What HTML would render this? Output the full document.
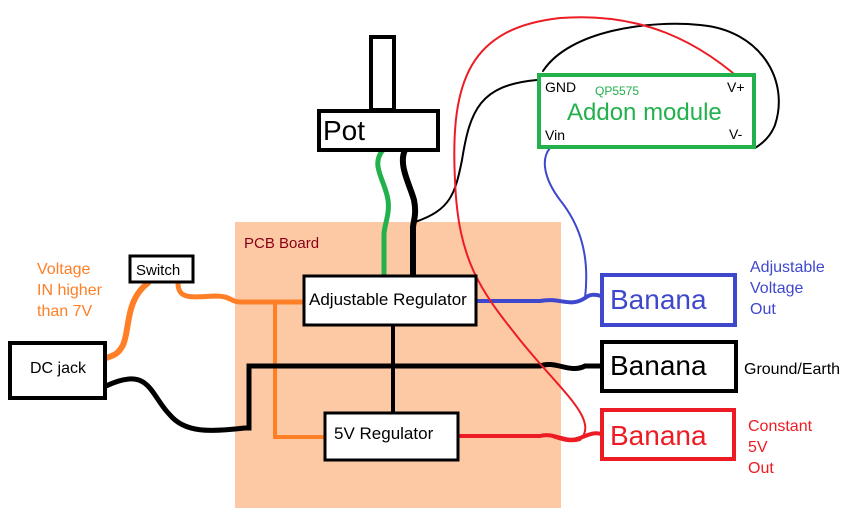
<!DOCTYPE html>
<html><head><style>
html,body{margin:0;padding:0;background:#fff;}
svg{display:block;font-family:"Liberation Sans","DejaVu Sans",sans-serif;}
</style></head><body>
<svg width="859" height="529" viewBox="0 0 859 529" xmlns="http://www.w3.org/2000/svg">
<rect x="235" y="222" width="326" height="286" fill="#fdc8a4"/>
<text x="244" y="248" font-size="15" fill="#880015">PCB Board</text>

<g fill="none" stroke-linecap="round">
<path d="M148 283 C125 300 130 330 123 345 C118 355 112 356 106 358" stroke="#ff7f27" stroke-width="6"/>
<path d="M178 283 C178 300 192 297 215 296 C232 296 230 302 240 302 L303 302" stroke="#ff7f27" stroke-width="5"/>
<path d="M275 302 L275 437 L324 437" stroke="#ff7f27" stroke-width="4"/>
<path d="M106 386 C150 365 150 395 170 415 C185 433 210 432 245 428 L249 428 L249 366 L540 366 C555 360 570 374 585 366 L601 366" stroke="#000" stroke-width="5"/>
<path d="M393 326 L393 412" stroke="#000" stroke-width="4"/>
<path d="M459 436 L540 436 C555 432 565 444 580 438 C590 434 595 432 601 434" stroke="#ed1c24" stroke-width="4"/>
<path d="M477 301 L540 301 C560 297 570 308 585 298 C590 294 595 294 601 296" stroke="#3f48cc" stroke-width="4"/>
<path d="M383 150 C370 165 385 180 388 200 C390 215 384 225 384 235 L384 275" stroke="#22b14c" stroke-width="5"/>
<path d="M405 150 C398 165 410 185 414 200 C417 215 413 222 413 228 L413 275" stroke="#000" stroke-width="6"/>
<path d="M415 222 C450 210 455 195 462 160 C470 110 480 85 537 80" stroke="#000" stroke-width="2"/>
<path d="M543 71 C570 30 650 20 700 25 C760 30 790 80 775 125 C770 138 760 145 755 148" stroke="#000" stroke-width="2"/>
<path d="M752 90 C700 40 640 12 560 18 C470 28 450 80 455 180 C458 260 480 290 520 340 C560 390 600 420 580 440 C570 443 560 440 550 436" stroke="#ed1c24" stroke-width="2"/>
<path d="M550 148 C540 160 545 180 560 200 C580 225 590 255 585 298" stroke="#3f48cc" stroke-width="2"/>
</g>

<rect x="371" y="37" width="23" height="73" fill="#fff" stroke="#000" stroke-width="4"/>
<rect x="319" y="111" width="119" height="39" fill="#fff" stroke="#000" stroke-width="4"/>
<text x="323" y="140" font-size="28">Pot</text>

<rect x="539" y="75" width="215" height="72" fill="#fff" stroke="#22b14c" stroke-width="4"/>
<text x="545" y="92" font-size="14">GND</text>
<text x="595" y="95" font-size="12" fill="#22b14c">QP5575</text>
<text x="727" y="92" font-size="14">V+</text>
<text x="567" y="120" font-size="24" fill="#22b14c">Addon module</text>
<text x="545" y="140" font-size="14">Vin</text>
<text x="729" y="139" font-size="14">V-</text>

<rect x="304" y="276" width="172" height="49" fill="#fff" stroke="#000" stroke-width="3"/>
<text x="309" y="305" font-size="17">Adjustable Regulator</text>
<rect x="325" y="413" width="133" height="47" fill="#fff" stroke="#000" stroke-width="3"/>
<text x="334" y="439" font-size="17">5V Regulator</text>

<rect x="130" y="256" width="63" height="26" fill="#fff" stroke="#000" stroke-width="3"/>
<text x="136" y="275" font-size="15">Switch</text>
<rect x="10" y="343" width="95" height="55" fill="#fff" stroke="#000" stroke-width="4"/>
<text x="30" y="373" font-size="16">DC jack</text>
<text x="37" y="274" font-size="16" fill="#ff7f27">Voltage</text>
<text x="37" y="295" font-size="16" fill="#ff7f27">IN higher</text>
<text x="37" y="316" font-size="16" fill="#ff7f27">than 7V</text>

<rect x="602" y="275" width="133" height="50" fill="#fff" stroke="#3f48cc" stroke-width="4"/>
<text x="610" y="309" font-size="28" fill="#3f48cc">Banana</text>
<rect x="602" y="342" width="134" height="49" fill="#fff" stroke="#000" stroke-width="4"/>
<text x="610" y="375" font-size="28">Banana</text>
<rect x="602" y="410" width="132" height="49" fill="#fff" stroke="#ed1c24" stroke-width="4"/>
<text x="610" y="445" font-size="28" fill="#ed1c24">Banana</text>

<text x="750" y="272" font-size="16" fill="#3f48cc">Adjustable</text>
<text x="750" y="293" font-size="16" fill="#3f48cc">Voltage</text>
<text x="750" y="314" font-size="16" fill="#3f48cc">Out</text>
<text x="744" y="374" font-size="16">Ground/Earth</text>
<text x="748" y="431" font-size="16" fill="#ed1c24">Constant</text>
<text x="748" y="452" font-size="16" fill="#ed1c24">5V</text>
<text x="748" y="473" font-size="16" fill="#ed1c24">Out</text>
</svg>
</body></html>
